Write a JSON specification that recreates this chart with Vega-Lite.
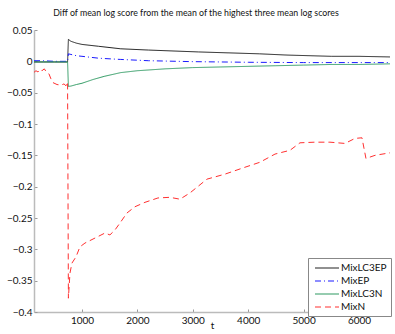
{
  "$schema": "https://vega.github.io/schema/vega-lite/v6.json",
  "autosize": "none",
  "width": 356,
  "height": 282,
  "padding": {"left": 34, "top": 30, "right": 5, "bottom": 22},
  "background": "white",
  "title": {"text": "Diff of mean log score  from the mean of the highest three mean log scores", "fontSize": 8.8, "fontWeight": "normal", "font": "Lato", "color": "#111", "offset": 7, "dx": -16},
  "config": {"view": {"stroke": null}, "font": "Lato"},
  "data": {"values": [
    {"t":134,"s":"MixLC3EP","v":-0.001},{"t":300,"s":"MixLC3EP","v":-0.001},{"t":500,"s":"MixLC3EP","v":-0.001},{"t":740,"s":"MixLC3EP","v":-0.001},
    {"t":755,"s":"MixLC3EP","v":0.035},{"t":800,"s":"MixLC3EP","v":0.032},{"t":900,"s":"MixLC3EP","v":0.029},{"t":1000,"s":"MixLC3EP","v":0.027},
    {"t":1300,"s":"MixLC3EP","v":0.024},{"t":1700,"s":"MixLC3EP","v":0.020},{"t":2200,"s":"MixLC3EP","v":0.018},{"t":3100,"s":"MixLC3EP","v":0.015},
    {"t":4200,"s":"MixLC3EP","v":0.012},{"t":4700,"s":"MixLC3EP","v":0.010},{"t":5500,"s":"MixLC3EP","v":0.008},{"t":6000,"s":"MixLC3EP","v":0.008},{"t":6560,"s":"MixLC3EP","v":0.007},
    {"t":134,"s":"MixEP","v":0.001},{"t":300,"s":"MixEP","v":0.001},{"t":500,"s":"MixEP","v":0.0},{"t":740,"s":"MixEP","v":0.0},
    {"t":755,"s":"MixEP","v":0.012},{"t":800,"s":"MixEP","v":0.011},{"t":900,"s":"MixEP","v":0.009},{"t":1000,"s":"MixEP","v":0.008},
    {"t":1300,"s":"MixEP","v":0.005},{"t":1700,"s":"MixEP","v":0.003},{"t":2200,"s":"MixEP","v":0.001},{"t":3000,"s":"MixEP","v":-0.0005},
    {"t":4000,"s":"MixEP","v":-0.0015},{"t":5000,"s":"MixEP","v":-0.002},{"t":6000,"s":"MixEP","v":-0.002},{"t":6560,"s":"MixEP","v":-0.002},
    {"t":134,"s":"MixLC3N","v":-0.001},{"t":740,"s":"MixLC3N","v":-0.001},{"t":755,"s":"MixLC3N","v":-0.040},{"t":800,"s":"MixLC3N","v":-0.0395},
    {"t":900,"s":"MixLC3N","v":-0.037},{"t":1000,"s":"MixLC3N","v":-0.035},{"t":1200,"s":"MixLC3N","v":-0.029},{"t":1400,"s":"MixLC3N","v":-0.024},
    {"t":1700,"s":"MixLC3N","v":-0.018},{"t":2000,"s":"MixLC3N","v":-0.015},{"t":2500,"s":"MixLC3N","v":-0.012},{"t":3000,"s":"MixLC3N","v":-0.010},
    {"t":3500,"s":"MixLC3N","v":-0.009},{"t":4000,"s":"MixLC3N","v":-0.008},{"t":4500,"s":"MixLC3N","v":-0.007},{"t":5000,"s":"MixLC3N","v":-0.006},
    {"t":5500,"s":"MixLC3N","v":-0.005},{"t":6000,"s":"MixLC3N","v":-0.005},{"t":6560,"s":"MixLC3N","v":-0.004},
    {"t":134,"s":"MixN","v":-0.0175},{"t":170,"s":"MixN","v":-0.015},{"t":206,"s":"MixN","v":-0.017},{"t":240,"s":"MixN","v":-0.013},{"t":278,"s":"MixN","v":-0.015},
    {"t":320,"s":"MixN","v":-0.012},{"t":350,"s":"MixN","v":-0.016},{"t":404,"s":"MixN","v":-0.02},{"t":440,"s":"MixN","v":-0.028},{"t":477,"s":"MixN","v":-0.034},
    {"t":549,"s":"MixN","v":-0.037},{"t":621,"s":"MixN","v":-0.038},{"t":675,"s":"MixN","v":-0.036},{"t":711,"s":"MixN","v":-0.039},{"t":740,"s":"MixN","v":-0.033},
    {"t":755,"s":"MixN","v":-0.378},{"t":783,"s":"MixN","v":-0.338},{"t":819,"s":"MixN","v":-0.322},{"t":892,"s":"MixN","v":-0.312},{"t":964,"s":"MixN","v":-0.296},
    {"t":1054,"s":"MixN","v":-0.29},{"t":1235,"s":"MixN","v":-0.282},{"t":1415,"s":"MixN","v":-0.274},{"t":1505,"s":"MixN","v":-0.277},{"t":1596,"s":"MixN","v":-0.269},
    {"t":1686,"s":"MixN","v":-0.258},{"t":1812,"s":"MixN","v":-0.242},{"t":1957,"s":"MixN","v":-0.232},{"t":2137,"s":"MixN","v":-0.225},{"t":2372,"s":"MixN","v":-0.218},
    {"t":2588,"s":"MixN","v":-0.217},{"t":2769,"s":"MixN","v":-0.220},{"t":2949,"s":"MixN","v":-0.21},{"t":3256,"s":"MixN","v":-0.188},{"t":3581,"s":"MixN","v":-0.18},
    {"t":3942,"s":"MixN","v":-0.169},{"t":4213,"s":"MixN","v":-0.161},{"t":4484,"s":"MixN","v":-0.148},{"t":4754,"s":"MixN","v":-0.142},{"t":4935,"s":"MixN","v":-0.130},
    {"t":5206,"s":"MixN","v":-0.129},{"t":5476,"s":"MixN","v":-0.129},{"t":5747,"s":"MixN","v":-0.131},{"t":5928,"s":"MixN","v":-0.123},{"t":6054,"s":"MixN","v":-0.122},
    {"t":6126,"s":"MixN","v":-0.155},{"t":6289,"s":"MixN","v":-0.15},{"t":6560,"s":"MixN","v":-0.146}
  ]},
  "mark": {"type": "line", "strokeWidth": 1, "clip": true},
  "encoding": {
    "x": {"field": "t", "type": "quantitative", "title": "t",
      "scale": {"domain": [134, 6560], "nice": false, "zero": false},
      "axis": {"values": [1000, 2000, 3000, 4000, 5000, 6000], "format": "d", "grid": false, "domainColor": "#bbb", "domainWidth": 1.5, "tickColor": "#999", "tickSize": -3, "labelPadding": 6, "labelFontSize": 10, "labelColor": "#111", "labelFont": "Lato", "titleFontSize": 10, "titleFontWeight": "normal", "titleFont": "Lato", "titleColor": "#111", "titlePadding": -5}},
    "y": {"field": "v", "type": "quantitative", "title": null,
      "scale": {"domain": [-0.4, 0.05], "nice": false, "zero": false},
      "axis": {"values": [-0.4, -0.35, -0.3, -0.25, -0.2, -0.15, -0.1, -0.05, 0, 0.05], "format": ".2~f", "grid": false, "domainColor": "#bbb", "domainWidth": 1.5, "tickColor": "#999", "tickSize": -3, "labelPadding": 5, "labelFontSize": 10, "labelColor": "#111", "labelFont": "Lato"}},
    "color": {"field": "s", "type": "nominal", "title": null,
      "scale": {"domain": ["MixLC3EP", "MixEP", "MixLC3N", "MixN"], "range": ["#222222", "#1a1aff", "#2e9a62", "#ff3030"]},
      "legend": {"orient": "none", "legendX": 274, "legendY": 228, "symbolType": "M-0.6,0H4.2", "symbolSize": 100, "symbolStrokeWidth": 1.2, "symbolOffset": 0, "strokeColor": "#888", "fillColor": "white", "padding": 4, "labelFontSize": 10, "labelFont": "Lato", "labelColor": "#111", "rowPadding": 2, "labelOffset": 17}},
    "strokeDash": {"field": "s", "type": "nominal", "title": null,
      "scale": {"domain": ["MixLC3EP", "MixEP", "MixLC3N", "MixN"], "range": [[1, 0], [6, 3, 1, 3], [1, 0], [6, 4]]}}
  }
}
